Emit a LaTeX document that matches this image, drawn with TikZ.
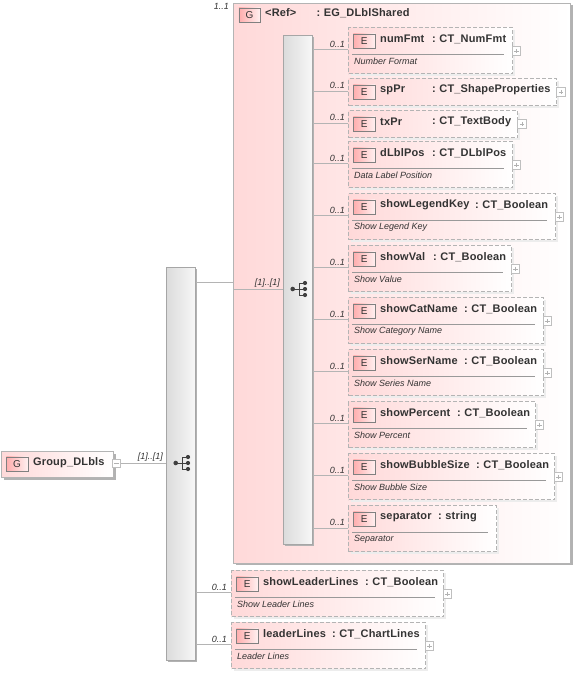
\documentclass[tikz,border=0pt]{standalone}
\usepackage{fontspec}
\setmainfont{Liberation Sans}
\usetikzlibrary{shadows}
\definecolor{pinkfill}{HTML}{FFD9D9}
\definecolor{textgrey}{HTML}{333333}
\definecolor{edgegrey}{HTML}{B4B4B4}
\tikzset{
  boxshadow/.style={drop shadow={shadow xshift=2pt,shadow yshift=-2pt,fill=black!30,opacity=1}},
  softshadow/.style={drop shadow={shadow xshift=2pt,shadow yshift=-2pt,fill=black!7,opacity=1}},
  elemnode/.style={anchor=north west,inner sep=0pt,draw=edgegrey,dash pattern=on 4pt off 2pt,line width=1pt,left color=pinkfill,right color=white,softshadow},
  groupnode/.style={anchor=north west,inner sep=0pt,draw=edgegrey,line width=1pt,left color=pinkfill,right color=white,boxshadow},
  seqbar/.style={anchor=north west,inner sep=0pt,draw=black!35,line width=.8pt,minimum width=29pt,left color=black!14,right color=black!3,boxshadow},
  badge/.style={anchor=north west,inner sep=0pt,minimum width=21.5pt,minimum height=14pt,draw=black!50,line width=.7pt,left color=pinkfill!80!red,right color=pinkfill!40,text=textgrey,font=\fontsize{10}{10}\selectfont},
  nametext/.style={anchor=west,inner sep=0pt,text=textgrey,font=\fontsize{11}{11}\selectfont\bfseries\addfontfeatures{LetterSpace=1.5}},
  doctext/.style={anchor=west,inner sep=0pt,text=textgrey,font=\fontsize{9}{9}\selectfont\itshape},
  occurs/.style={anchor=east,inner sep=0pt,text=textgrey,font=\fontsize{9}{9}\selectfont\itshape},
  link/.style={draw=edgegrey,line width=1pt},
  sepline/.style={draw=black!40,line width=.8pt},
  expander/.style={inner sep=0pt,minimum size=8.5pt,draw=black!25,line width=.7pt,fill=white},
  plusbox/.style={expander,path picture={\draw[black!30,line width=.6pt] ([xshift=2pt]path picture bounding box.west) -- ([xshift=-2pt]path picture bounding box.east) ([yshift=-2pt]path picture bounding box.north) -- ([yshift=2pt]path picture bounding box.south);}},
  minusbox/.style={expander,path picture={\draw[black!30,line width=.6pt] ([xshift=2pt]path picture bounding box.west) -- ([xshift=-2pt]path picture bounding box.east);}},
  seqicon/.pic={
    \draw[black!75,line width=.9pt] (-5.3,0) -- (1,0) (1,-6) -- (1,6) (1,-6) -- (7,-6) (1,0) -- (7,0) (1,6) -- (7,6);
    \foreach \dy in {-6,0,6} \fill[black!75] (7,\dy) circle (2.1pt);
    \fill[black!75] (-5.3,0) circle (2.3pt);
  }
}
% one element box: id, x, y, width, height, name, x of colon, type
\newcommand{\elembox}[8]{
  \node[elemnode,minimum width=#4pt,minimum height=#5pt] (#1) at (#2,#3) {};
  \node[badge] (#1badge) at (#2+5,#3+6.5) {E};
  \node[nametext] (#1name) at (#2+32,#3+12) {#6};
  \node[nametext] (#1type) at (#7,#3+12) {:\hspace{3.6pt}#8};
}
% the rule and the text under an element name
\newcommand{\elemdoc}[5]{
  \draw[sepline] (#2+4,#3+27) -- (#2+#4-8,#3+27);
  \node[doctext] (#1doc) at (#2+6,#3+34.5) {#5};
}
\begin{document}
\begin{tikzpicture}[x=1pt,y=-1pt]
  \useasboundingbox (0,0) rectangle (576,673);
  % outer group
  \node[groupnode,minimum width=112pt,minimum height=26pt] (group) at (1,451) {};
  \node[badge] (groupbadge) at (6,456.5) {G};
  \node[nametext] (groupname) at (33,462.5) {Group\_DLbls};
  \node[minusbox] (groupminus) at (116.5,463.5) {};
  % outer sequence
  \node[seqbar,minimum height=393pt] (outerseq) at (166,267) {};
  \pic at (181,463) {seqicon};
  \draw[link] (groupminus.east) -- (outerseq.west |- groupminus.east);
  \node[occurs] (groupoccurs) at (163,457) {[1]..[1]};
  % referenced group
  \node[groupnode,minimum width=337pt,minimum height=560pt] (refgroup) at (233,2.5) {};
  \node[badge] (refbadge) at (238.5,7.5) {G};
  \node[nametext] (refname) at (265,13) {<Ref>};
  \node[nametext] (reftype) at (316.5,13) {:\hspace{3.6pt}EG\_DLblShared};
  \node[occurs] (refoccurs) at (229,6) {1..1};
  % inner sequence
  \node[seqbar,minimum height=509pt] (innerseq) at (283,35) {};
  \pic at (298,289) {seqicon};
  \draw[link] (outerseq.east |- 0,282) -- (refgroup.west |- 0,282);
  \draw[link] (refgroup.west |- 0,289) -- (innerseq.west |- 0,289);
  \node[occurs] (seqoccurs) at (280,283) {[1]..[1]};
  % elements with a text
  \foreach \i/\nm/\ty/\dc/\boxtop/\boxw/\colx in {
    a/numFmt/CT\_NumFmt/Number Format/27/164/432,
    d/dLblPos/CT\_DLblPos/Data Label Position/141/164/432,
    e/showLegendKey/CT\_Boolean/Show Legend Key/193/207/475,
    f/showVal/CT\_Boolean/Show Value/245/163/433,
    g/showCatName/CT\_Boolean/Show Category Name/297/195/464,
    h/showSerName/CT\_Boolean/Show Series Name/349/195/464,
    j/showPercent/CT\_Boolean/Show Percent/401/187/457,
    k/showBubbleSize/CT\_Boolean/Show Bubble Size/453/206/476} {
    \elembox{\i}{348}{\boxtop}{\boxw}{46}{\nm}{\colx}{\ty}
    \elemdoc{\i}{348}{\boxtop}{\boxw}{\dc}
    \node[plusbox] (\i plus) at (348+\boxw+4.5,\boxtop+24) {};
    \draw[link] (innerseq.east |- 0,\boxtop+22.5) -- (348,\boxtop+22.5);
    \node[occurs] (\i occurs) at (345,\boxtop+17) {0..1};
  }
  % elements without a text
  \foreach \i/\nm/\ty/\boxtop/\boxw in {
    b/spPr/CT\_ShapeProperties/78/208,
    c/txPr/CT\_TextBody/110/169} {
    \elembox{\i}{348}{\boxtop}{\boxw}{27}{\nm}{432}{\ty}
    \node[plusbox] (\i plus) at (348+\boxw+5,\boxtop+14) {};
    \draw[link] (innerseq.east |- 0,\boxtop+13) -- (348,\boxtop+13);
    \node[occurs] (\i occurs) at (345,\boxtop+7) {0..1};
  }
  % last one has no expander
  \elembox{m}{348}{505}{148}{46}{separator}{438}{string}
  \elemdoc{m}{348}{505}{148}{Separator}
  \draw[link] (innerseq.east |- 0,528) -- (m.west |- 0,528);
  \node[occurs] (moccurs) at (345,522) {0..1};
  % elements below the group
  \foreach \i/\nm/\ty/\dc/\boxtop/\boxw/\colx in {
    n/showLeaderLines/CT\_Boolean/Show Leader Lines/570/212/365,
    o/leaderLines/CT\_ChartLines/Leader Lines/622/194/332} {
    \elembox{\i}{231}{\boxtop}{\boxw}{46}{\nm}{\colx}{\ty}
    \elemdoc{\i}{231}{\boxtop}{\boxw}{\dc}
    \node[plusbox] (\i plus) at (231+\boxw+4.5,\boxtop+24) {};
    \draw[link] (outerseq.east |- 0,\boxtop+22.5) -- (231,\boxtop+22.5);
    \node[occurs] (\i occurs) at (227,\boxtop+17) {0..1};
  }
\end{tikzpicture}
\end{document}
